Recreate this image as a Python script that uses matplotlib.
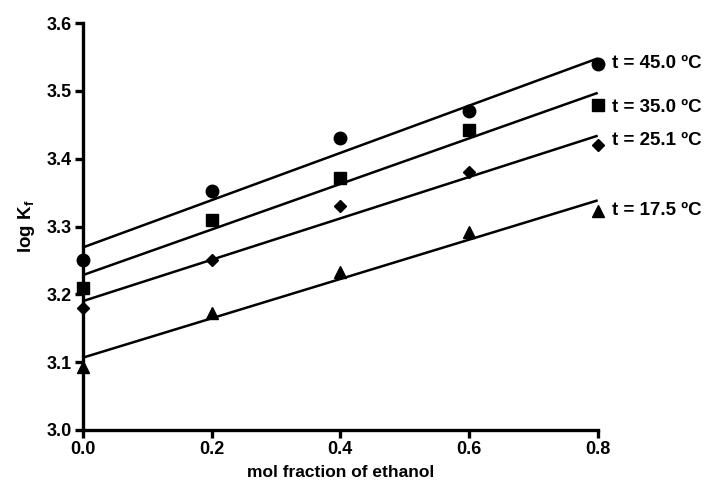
import numpy as np
import matplotlib
matplotlib.use("Agg")
import matplotlib.pyplot as plt

plt.rcParams['font.family'] = ['Liberation Sans', 'DejaVu Sans']
plt.rcParams['mathtext.fontset'] = 'custom'
plt.rcParams['mathtext.rm'] = 'Liberation Sans:bold'
plt.rcParams['mathtext.bf'] = 'Liberation Sans:bold'

# mol fraction of ethanol
x_frac = [0.0, 0.2, 0.4, 0.6, 0.8]

# log Kf at each temperature
logk_45 = [3.25, 3.353, 3.43, 3.47, 3.54]
logk_35 = [3.21, 3.31, 3.372, 3.442, 3.48]
logk_25 = [3.18, 3.25, 3.33, 3.38, 3.42]
logk_17 = [3.093, 3.172, 3.233, 3.292, 3.323]

labels = ["t = 45.0 ºC", "t = 35.0 ºC", "t = 25.1 ºC", "t = 17.5 ºC"]
markers = ["o", "s", "D", "^"]
sizes = [9, 8.5, 6, 9]
label_y = [3.54, 3.476, 3.427, 3.324]

fig = plt.figure(figsize=(7.09, 4.93), dpi=100)
ax = fig.add_axes([0.117, 0.128, 0.726, 0.825])

xs = np.array(x_frac)
for ys, m, ms, lab, ly in zip([logk_45, logk_35, logk_25, logk_17], markers, sizes, labels, label_y):
    ys = np.array(ys)
    slope, icpt = np.polyfit(xs, ys, 1)
    ax.plot([0, 0.8], [icpt, icpt + slope * 0.8], color="black", lw=1.8,
            solid_capstyle="butt", clip_on=False)
    ax.plot(xs, ys, linestyle="none", marker=m, ms=ms, color="black", clip_on=False, zorder=5)
    ax.annotate(lab, xy=(0.8, ly), xytext=(10, 0), textcoords="offset points",
                va="center", ha="left", fontsize=13.5, fontweight="bold", annotation_clip=False)

ax.set_xlim(0, 0.8)
ax.set_ylim(3.0, 3.6)
ax.set_xticks([0.0, 0.2, 0.4, 0.6, 0.8])
ax.set_xticklabels(["0.0", "0.2", "0.4", "0.6", "0.8"])
ax.set_yticks([3.0, 3.1, 3.2, 3.3, 3.4, 3.5, 3.6])
ax.set_yticklabels(["3.0", "3.1", "3.2", "3.3", "3.4", "3.5", "3.6"])

for s in ["top", "right"]:
    ax.spines[s].set_visible(False)
for s in ["left", "bottom"]:
    ax.spines[s].set_linewidth(2.4)

ax.tick_params(axis="both", direction="out", length=6, width=2.4, labelsize=13, pad=2)
for t in ax.get_xticklabels() + ax.get_yticklabels():
    t.set_fontweight("bold")

ax.set_xlabel("mol fraction of ethanol", fontsize=12.5, fontweight="bold", labelpad=5)
ax.set_ylabel(r"log K$_{\mathbf{f}}$", fontsize=13.5, fontweight="bold", labelpad=7)

fig.savefig("out.png", dpi=100)
